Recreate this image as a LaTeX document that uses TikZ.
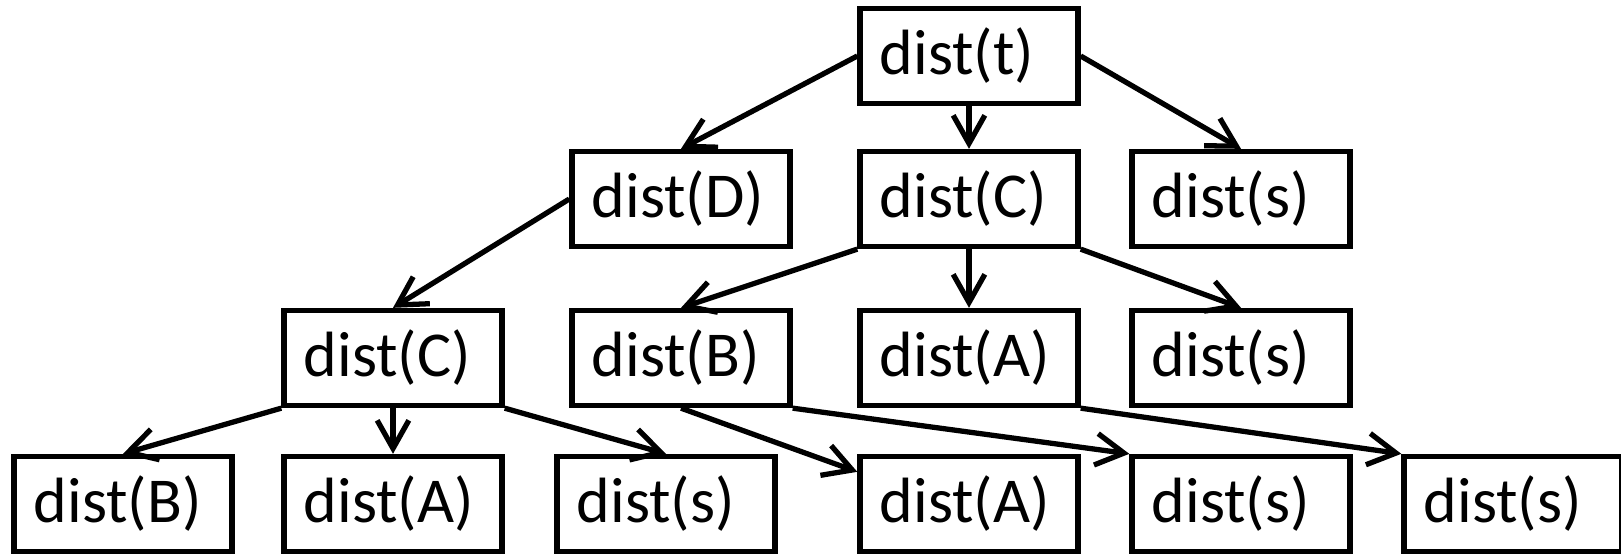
\documentclass[tikz,border=0pt]{standalone}
\usepackage{fontspec}
\setmainfont{Carlito}
\usetikzlibrary{arrows.meta}

\tikzset{
  distbox/.style={draw, line width=1.5pt, text width=1.78cm, inner xsep=0.2cm,
    minimum height=0.95cm, align=left, font=\fontsize{18.2}{21}\selectfont},
}

\begin{document}
\begin{tikzpicture}[x=0.01cm, y=-0.01cm, line width=1.5pt,
    >={Straight Barb[length=8pt,width=9pt]}]
  \useasboundingbox (0,0) rectangle (1621,555);
  \clip (0,0) rectangle (1621,555);

  % top
  \node[distbox] (t) at (969,56) {dist(t)};
  % second row
  \node[distbox] (D) at (681,199) {dist(D)};
  \node[distbox] (C1) at (969,199) {dist(C)};
  \node[distbox] (s1) at (1241,199) {dist(s)};
  % third row
  \node[distbox] (C2) at (393,358) {dist(C)};
  \node[distbox] (B2) at (681,358) {dist(B)};
  \node[distbox] (A2) at (969,358) {dist(A)};
  \node[distbox] (s2) at (1241,358) {dist(s)};
  % bottom row
  \node[distbox] (B3) at (123,504) {dist(B)};
  \node[distbox] (A3) at (393,504) {dist(A)};
  \node[distbox] (s3) at (666,504) {dist(s)};
  \node[distbox] (A4) at (969,504) {dist(A)};
  \node[distbox] (s4) at (1241,504) {dist(s)};
  \node[distbox] (s5) at (1513,504) {dist(s)};

  \draw[->] (t.west) -- (D.north);
  \draw[->] (t.south) -- (C1.north);
  \draw[->] (t.east) -- (s1.north);
  \draw[->] (D.west) -- (C2.north);
  \draw[->] (C1.south west) -- (B2.north);
  \draw[->] (C1.south) -- (A2.north);
  \draw[->] (C1.south east) -- (s2.north);
  \draw[->] (C2.south west) -- (B3.north);
  \draw[->] (C2.south) -- (A3.north);
  \draw[->] (C2.south east) -- (s3.north);
  \draw[->] (B2.south) -- ([yshift=-0.18cm]A4.north west);
  \draw[->] (B2.south east) -- (s4.north west);
  \draw[->] (A2.south east) -- (s5.north west);
\end{tikzpicture}
\end{document}
